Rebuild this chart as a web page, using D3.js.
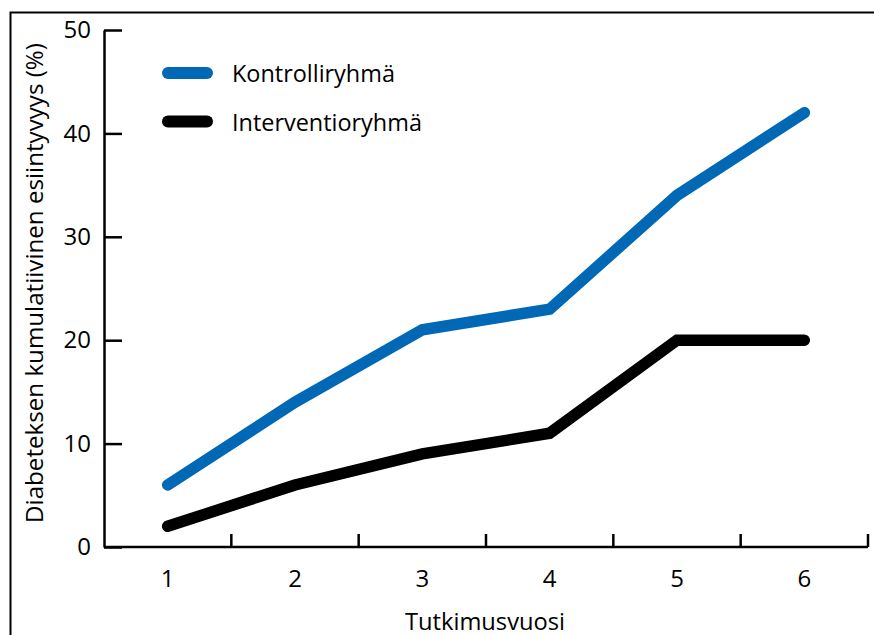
<!DOCTYPE html>
<html>
<head>
<meta charset="utf-8">
<script src="https://cdn.jsdelivr.net/npm/d3@7"></script>
<style>
  html, body { margin: 0; padding: 0; background: #fff; }
  svg { display: block; }
  text { font-family: "Open Sans", "Noto Sans", sans-serif; fill: #000; }
</style>
</head>
<body>
<svg id="chart" width="874" height="635"></svg>
<script>
const years = [1, 2, 3, 4, 5, 6];
const kontrolli = [6, 14, 21, 23, 34, 42];
const interventio = [2, 6, 9, 11, 20, 20];
const yTicks = [0, 10, 20, 30, 40, 50];
const seriesNames = ["Kontrolliryhmä", "Interventioryhmä"];
const seriesColors = ["#0068b4", "#000000"];
const yTitle = "Diabeteksen kumulatiivinen esiintyvyys (%)";
const xTitle = "Tutkimusvuosi";

const svg = d3.select("#chart");

function fitWidth(sel, target, base) {
  const w = sel.node().getComputedTextLength();
  if (w > 0) sel.style("font-size", (base * target / w).toFixed(2) + "px");
}

// frame
svg.append("rect")
  .attr("x", 10.5).attr("y", 12.5)
  .attr("width", 900).attr("height", 700)
  .attr("fill", "none").attr("stroke", "#000").attr("stroke-width", 2);

const x = d3.scaleBand().domain(years).range([104, 868]);
const y = d3.scaleLinear().domain([0, 50]).range([547, 30]);

// y axis
const yAxis = svg.append("g")
  .attr("transform", "translate(104,0)")
  .call(d3.axisLeft(y).tickValues(yTicks).tickSizeInner(-18).tickSizeOuter(0).tickPadding(13));
yAxis.select(".domain").attr("stroke-width", 2.5);
yAxis.selectAll(".tick line").attr("stroke-width", 2.5);
yAxis.selectAll(".tick text").style("font-size", "24px").attr("font-family", null);

// x axis
const xAxis = svg.append("g")
  .attr("transform", "translate(0,547)")
  .call(d3.axisBottom(x).tickSize(0).tickPadding(23));
xAxis.select(".domain").remove();
xAxis.selectAll(".tick text").style("font-size", "24px").attr("font-family", null);
svg.append("line")
  .attr("x1", x.range()[0]).attr("x2", x.range()[1])
  .attr("y1", 547).attr("y2", 547)
  .attr("stroke", "#000").attr("stroke-width", 2.5);
svg.append("g").selectAll("line")
  .data(years)
  .join("line")
  .attr("x1", d => x(d) + x.bandwidth())
  .attr("x2", d => x(d) + x.bandwidth())
  .attr("y1", 547).attr("y2", 534)
  .attr("stroke", "#000").attr("stroke-width", 2.5);

// lines
const line = d3.line()
  .x((d, i) => x(years[i]) + x.bandwidth() / 2)
  .y(d => y(d));

[kontrolli, interventio].forEach((s, i) => {
  svg.append("path")
    .datum(s)
    .attr("d", line)
    .attr("fill", "none")
    .attr("stroke", seriesColors[i])
    .attr("stroke-width", 11.5)
    .attr("stroke-linecap", "round")
    .attr("stroke-linejoin", "miter");
});

// legend
const leg = svg.append("g");
const legTargets = [163, 181];
seriesNames.forEach((n, i) => {
  const ly = 73 + i * 48.5;
  leg.append("line")
    .attr("x1", 168).attr("x2", 207)
    .attr("y1", ly).attr("y2", ly)
    .attr("stroke", seriesColors[i])
    .attr("stroke-width", 12)
    .attr("stroke-linecap", "round");
  const t = leg.append("text")
    .attr("x", 232).attr("y", ly + 9)
    .style("font-size", "23px")
    .text(n);
  if (i === 0) fitWidth(t, legTargets[0], 23);
});
// use same size for both legend labels
const legSize = leg.select("text").style("font-size");
leg.selectAll("text").style("font-size", legSize);

// titles
const yt = svg.append("text")
  .attr("transform", `translate(43,283) rotate(-90)`)
  .attr("text-anchor", "middle")
  .style("font-size", "22px")
  .text(yTitle);
fitWidth(yt, 480, 22);

const xt = svg.append("text")
  .attr("x", 485).attr("y", 630)
  .attr("text-anchor", "middle")
  .style("font-size", "23px")
  .text(xTitle);
fitWidth(xt, 160, 23);
</script>
</body>
</html>
